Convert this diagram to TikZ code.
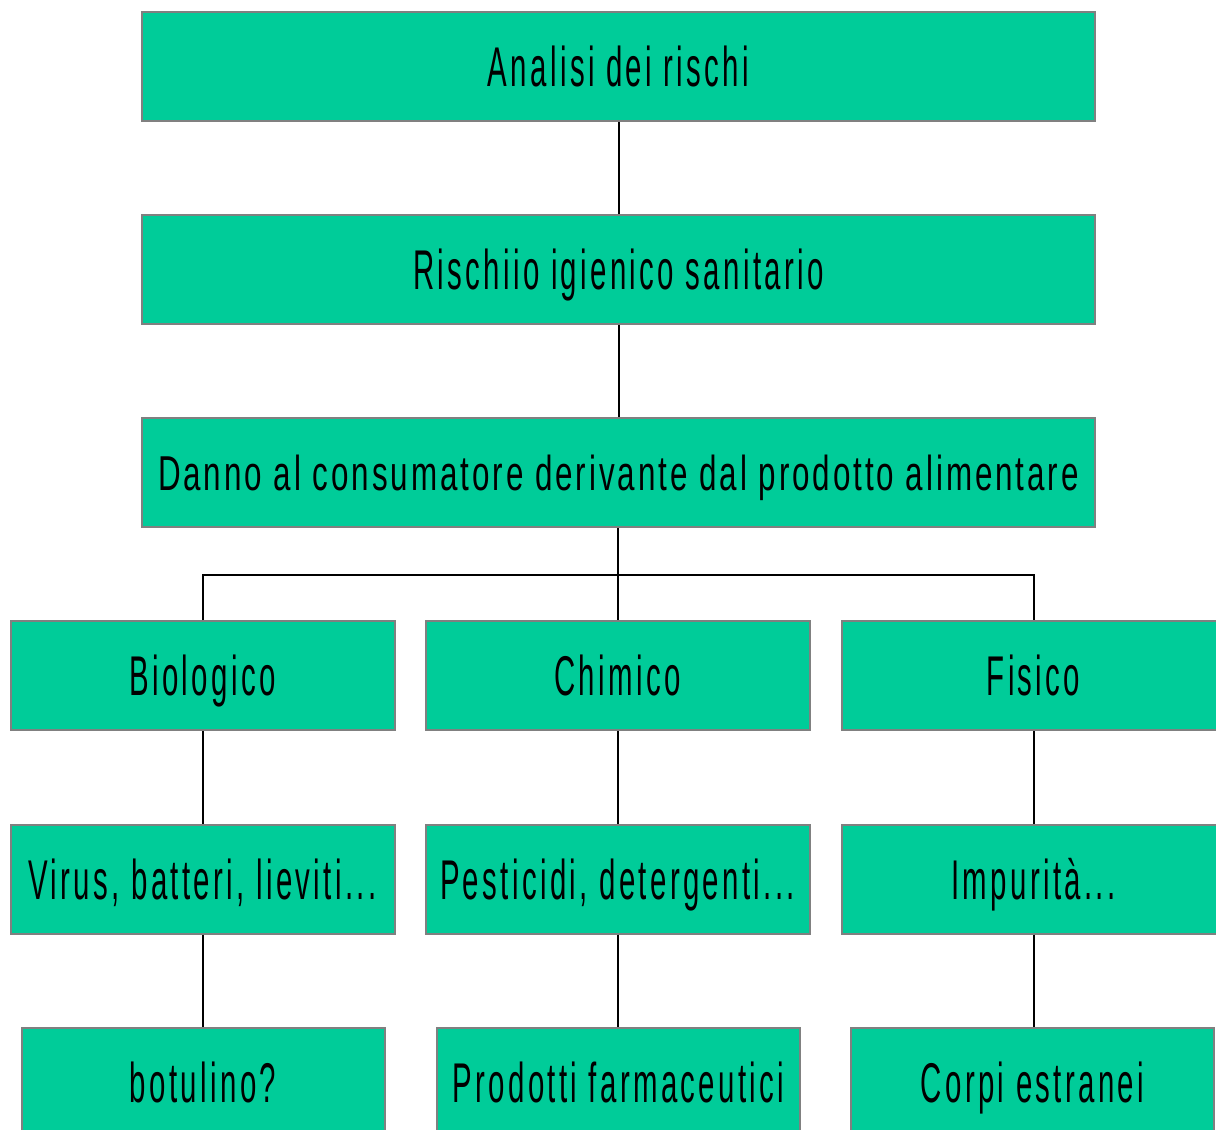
\documentclass[tikz,border=0pt]{standalone}
\usepackage{fontspec}
\newfontfamily\boxfont[FakeStretch=0.525,LetterSpace=6]{Liberation Sans}
\newfontfamily\longfont[FakeStretch=0.64,LetterSpace=6]{Liberation Sans}
\definecolor{boxgreen}{HTML}{00CC99}
\definecolor{boxline}{HTML}{808080}
\tikzset{
  riskbox/.style={draw=boxline, line width=1pt, fill=boxgreen, inner sep=0pt,
    minimum height=54.5pt, text height=20pt, text depth=0pt,
    font=\boxfont\fontsize{28}{32}\selectfont},
  widebox/.style={riskbox, minimum width=476.5pt},
  longbox/.style={widebox, text height=17.5pt,
    font=\longfont\fontsize{24.5}{28}\selectfont},
  midbox/.style={riskbox, minimum width=192pt},
  lowbox/.style={riskbox, minimum width=181.5pt},
  link/.style={line width=1pt, black}
}
\begin{document}
\begin{tikzpicture}[x=0.5pt, y=-0.5pt]
		%%%%% START %%%%%
		\useasboundingbox (0, 0) rectangle (1216, 1130);
		
		\node[widebox] (analisi) at (618.5, 66.5) {Analisi dei rischi};
		\node[widebox] (rischio) at (618.5, 269.5) {Rischiio igienico sanitario};
		\node[longbox] (danno) at (618.5, 472.5) {Danno al consumatore derivante dal prodotto alimentare};
		
		\node[midbox] (bio) at (202.5, 675.5) {Biologico};
		\node[midbox] (chim) at (617.5, 675.5) {Chimico};
		\node[midbox] (fis) at (1033.5, 675.5) {Fisico};
		
		\node[midbox] (virus) at (202.5, 879) {Virus, batteri, lieviti...};
		\node[midbox] (pest) at (617.5, 879) {Pesticidi, detergenti...};
		\node[midbox] (impur) at (1033.5, 879) {Impurità...};
		
		\node[lowbox] (botul) at (203, 1082.5) {botulino?};
		\node[lowbox] (farm) at (618.5, 1082.5) {Prodotti farmaceutici};
		\node[lowbox] (corpi) at (1032.5, 1082.5) {Corpi estranei};
		
		\coordinate (bus) at (618, 575);
		
		\draw[link] (analisi) -- (rischio);
		\draw[link] (rischio) -- (danno);
		\draw[link] (danno.south -| chim) -- (chim);
		\draw[link] (bio) |- (bus) -| (fis);
		
		\draw[link] (bio) -- (virus);
		\draw[link] (chim) -- (pest);
		\draw[link] (fis) -- (impur);
		\draw[link] (virus.south) -- (virus.south |- botul.north);
		\draw[link] (pest.south) -- (pest.south |- farm.north);
		\draw[link] (impur.south) -- (impur.south |- corpi.north);
		
		%%%%% END %%%%%
	\end{tikzpicture}
\end{document}
